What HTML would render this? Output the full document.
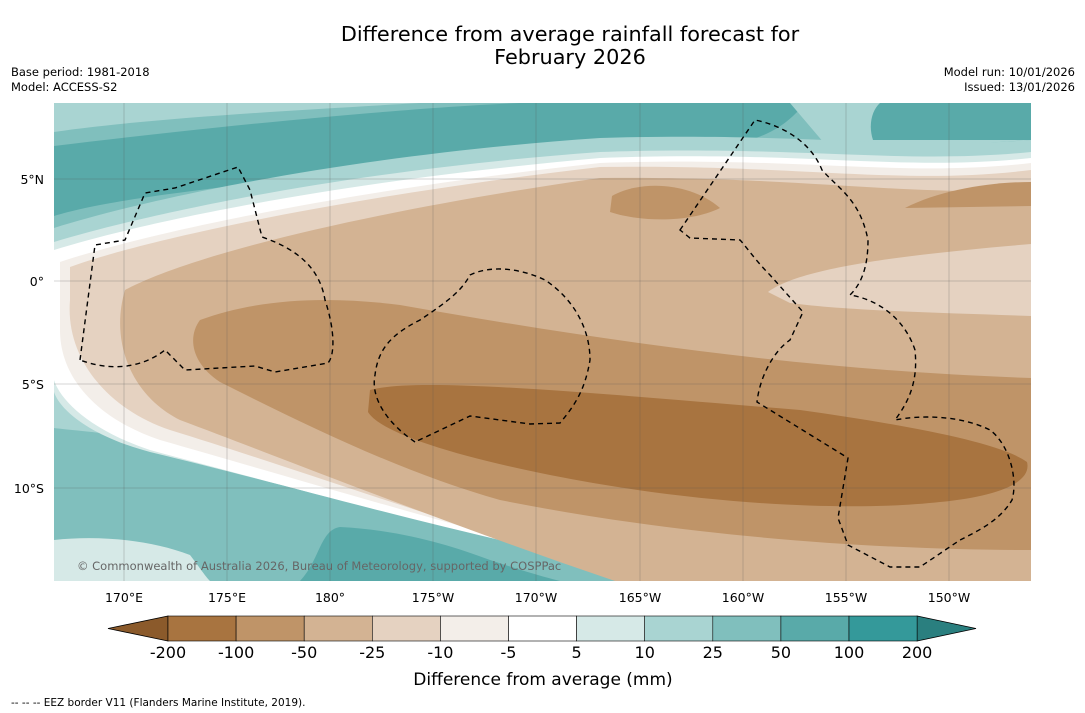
<!DOCTYPE html>
<html><head><meta charset="utf-8"><style>
body{margin:0;background:#fff;font-family:"DejaVu Sans","Liberation Sans",sans-serif;}
svg{display:block}
</style></head><body>
<svg id="chart" width="1085" height="713" viewBox="0 0 1085 713">
<defs><clipPath id="mc"><rect x="54" y="103" width="977" height="478"/></clipPath></defs>
<text x="570" y="41" font-size="20.8" text-anchor="middle">Difference from average rainfall forecast for</text>
<text x="570" y="64" font-size="20.8" text-anchor="middle">February 2026</text>
<text x="11" y="76" font-size="11.5">Base period: 1981-2018</text>
<text x="11" y="91" font-size="11.5">Model: ACCESS-S2</text>
<text x="1075" y="76" font-size="11.5" text-anchor="end">Model run: 10/01/2026</text>
<text x="1075" y="91" font-size="11.5" text-anchor="end">Issued: 13/01/2026</text>
<g clip-path="url(#mc)">
<rect x="54" y="103" width="977" height="478" fill="#80bfbd"/>
<path d="M54,103 L420,103 C300,110 150,118 54,132 Z" fill="#a9d4d2"/>
<path d="M54,146 C200,128 400,108 520,103 L805,103 C785,128 760,143 700,150 C550,156 350,170 200,190 C120,200 80,208 54,216 Z" fill="#59aaa9"/>
<path d="M790,103 L1031,103 L1031,140 C950,145 880,150 830,150 Z" fill="#a9d4d2"/>
<path d="M880,103 L1031,103 L1031,140 L873,140 C868,125 872,110 880,103 Z" fill="#59aaa9"/>
<path d="M300,581 C320,560 320,530 340,527 C400,530 450,545 490,560 C520,570 540,576 560,581 Z" fill="#59aaa9"/>
<path d="M54,540 C100,535 150,540 190,555 C200,568 205,576 210,581 L54,581 Z" fill="#d6e9e7"/>
<path d="M54,228 C150,198 350,155 600,138 C800,132 900,150 1031,140 L1031,581 L720,581 C500,548 300,470 150,440 C100,432 70,430 54,428 Z" fill="#a9d4d2"/>
<path d="M54,242 C150,213 350,170 600,152 C800,145 900,165 1031,152 L1031,581 L705,581 C500,546 300,488 150,452 C90,436 60,410 54,392 Z" fill="#d6e9e7"/>
<path d="M54,250 C150,220 350,180 600,158 C800,150 900,172 1031,158 L1031,581 L690,581 C500,545 300,490 150,450 C90,430 60,400 54,380 Z" fill="#ffffff"/>
<path d="M60,262 C150,232 350,190 600,163 C800,156 900,178 1031,163 L1031,581 L670,581 C500,540 300,480 160,440 C100,420 60,380 60,330 Z" fill="#f3eee9"/>
<path d="M70,267 C150,238 350,196 600,167 C800,164 900,186 1031,170 L1031,581 L650,581 C480,535 300,470 170,430 C110,410 65,360 70,300 Z" fill="#e5d2c1"/>
<path d="M125,290 C200,250 400,206 600,178 C800,176 900,196 1031,190 L1031,581 L615,581 C450,525 300,465 180,420 C130,395 110,340 125,290 Z" fill="#d3b393"/>
<path d="M768,292 C800,268 900,255 1031,244 L1031,316 C950,313 850,311 790,303 Z" fill="#e5d2c1"/>
<path d="M200,320 C260,298 330,296 400,305 C600,340 800,370 1031,378 L1031,550 C900,550 700,540 500,500 C400,472 300,422 220,382 C190,362 188,336 200,320 Z" fill="#bf9468"/>
<path d="M612,196 C640,180 690,182 720,208 C690,223 640,222 610,212 Z" fill="#bf9468"/>
<path d="M905,208 C940,190 990,182 1031,182 L1031,206 Z" fill="#bf9468"/>
<path d="M370,390 C420,376 600,394 800,410 C900,424 1000,442 1027,462 C1032,482 1000,496 940,502 C850,512 700,505 550,475 C450,455 380,432 368,412 Z" fill="#a87440"/>
<g stroke="#555" stroke-width="0.5" stroke-opacity="0.5">
<line x1="124" y1="103" x2="124" y2="581"/><line x1="227" y1="103" x2="227" y2="581"/><line x1="330" y1="103" x2="330" y2="581"/><line x1="433" y1="103" x2="433" y2="581"/><line x1="536" y1="103" x2="536" y2="581"/><line x1="640" y1="103" x2="640" y2="581"/><line x1="743" y1="103" x2="743" y2="581"/><line x1="846" y1="103" x2="846" y2="581"/><line x1="949" y1="103" x2="949" y2="581"/>
<line x1="54" y1="179" x2="1031" y2="179"/><line x1="54" y1="281" x2="1031" y2="281"/><line x1="54" y1="384" x2="1031" y2="384"/><line x1="54" y1="488" x2="1031" y2="488"/>
</g>
<g fill="none" stroke="#000" stroke-width="1.4" stroke-dasharray="5,4">
<path d="M80,360 L95,245 L125,240 L145,193 L175,188 L238,167 L250,190 L262,237 C300,250 320,270 325,300 C335,330 335,355 328,363 L275,372 L255,366 L185,370 L165,350 C150,362 120,375 80,360"/>
<path d="M415,442 C390,425 370,400 375,375 C378,350 390,335 420,320 C450,300 462,290 470,275 C490,265 520,268 545,280 C575,300 590,330 590,360 C585,390 575,405 560,423 L530,424 L470,416 Z"/>
<path d="M680,230 L755,120 C780,125 810,140 822,170 C840,190 860,200 868,240 C868,270 860,285 850,295 C880,300 905,320 915,350 C918,380 910,400 895,420 C920,415 960,415 990,430 C1010,445 1018,480 1012,500 C1000,520 980,530 960,540 L920,567 L890,567 L848,545 L838,518 L848,458 L757,402 C760,375 775,350 790,340 L803,312 L770,275 C755,260 745,245 740,240 L690,238 Z"/>
</g>
<text x="77" y="570" font-size="11.5" fill="#666">© Commonwealth of Australia 2026, Bureau of Meteorology, supported by COSPPac</text>
</g>
<g font-size="12.5" text-anchor="middle">
<text x="124" y="602">170°E</text><text x="227" y="602">175°E</text><text x="330" y="602">180°</text><text x="433" y="602">175°W</text><text x="536" y="602">170°W</text><text x="640" y="602">165°W</text><text x="743" y="602">160°W</text><text x="846" y="602">155°W</text><text x="949" y="602">150°W</text>
</g>
<g font-size="12.5" text-anchor="end">
<text x="44" y="184">5°N</text><text x="44" y="286">0°</text><text x="44" y="389">5°S</text><text x="44" y="493">10°S</text>
</g>
<g id="cbar"></g>
<text x="543" y="685" font-size="17" text-anchor="middle">Difference from average (mm)</text>
<text x="11" y="706" font-size="10.5">--  --  -- EEZ border V11 (Flanders Marine Institute, 2019).</text>
</svg>
<script>
const cbLabels=["-200","-100","-50","-25","-10","-5","5","10","25","50","100","200"];
const cbColors=["#a87440","#bf9468","#d3b393","#e5d2c1","#f3eee9","#ffffff","#d6e9e7","#a9d4d2","#80bfbd","#59aaa9","#34999a"];
const NS="http://www.w3.org/2000/svg";
const g=document.getElementById('cbar');
const x0=168,w=68.1,y0=616,h=25;
function mk(t,a){const e=document.createElementNS(NS,t);for(const k in a)e.setAttribute(k,a[k]);g.appendChild(e);return e;}
const lt=mk('polygon',{points:`${x0},${y0} ${x0},${y0+h} 108,${y0+h/2}`,fill:'#8b5a2b',stroke:'#000','stroke-width':0.8});


const xe=x0+w*cbColors.length;
const rt=mk('polygon',{points:`${xe},${y0} ${xe},${y0+h} 976,${y0+h/2}`,fill:'#2a7f7f',stroke:'#000','stroke-width':0.8});


cbColors.forEach((c,i)=>{
 const r=mk('rect',{x:x0+i*w,y:y0,width:w,height:h,fill:c,stroke:'#000','stroke-width':0.6});
 
 
});
cbLabels.forEach((l,i)=>{
 const t=mk('text',{x:x0+i*w,y:658,'font-size':16,'text-anchor':'middle'});
 t.textContent=l;
 
 
});
</script>
</body></html>
